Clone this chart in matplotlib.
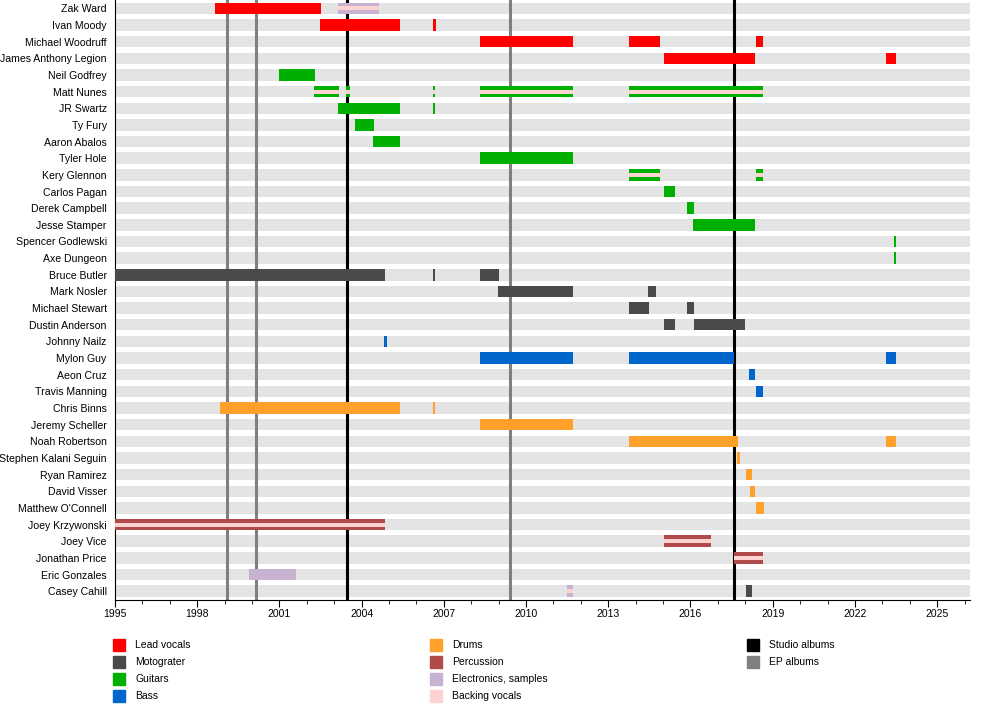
import matplotlib.pyplot as plt
from matplotlib.patches import Rectangle

plt.rcParams['font.family'] = ['Liberation Sans', 'DejaVu Sans']

members = ["Zak Ward", "Ivan Moody", "Michael Woodruff", "James Anthony Legion",
           "Neil Godfrey", "Matt Nunes", "JR Swartz", "Ty Fury", "Aaron Abalos",
           "Tyler Hole", "Kery Glennon", "Carlos Pagan", "Derek Campbell",
           "Jesse Stamper", "Spencer Godlewski", "Axe Dungeon", "Bruce Butler",
           "Mark Nosler", "Michael Stewart", "Dustin Anderson", "Johnny Nailz",
           "Mylon Guy", "Aeon Cruz", "Travis Manning", "Chris Binns",
           "Jeremy Scheller", "Noah Robertson", "Stephen Kalani Seguin",
           "Ryan Ramirez", "David Visser", "Matthew O'Connell", "Joey Krzywonski",
           "Joey Vice", "Jonathan Price", "Eric Gonzales", "Casey Cahill"]

# (member, start, end)
lead_vocals = [("Zak Ward", 1998.65, 2002.5), ("Ivan Moody", 2002.47, 2005.39),
               ("Ivan Moody", 2006.6, 2006.7), ("Michael Woodruff", 2008.33, 2011.71),
               ("Michael Woodruff", 2013.75, 2014.9), ("Michael Woodruff", 2018.39, 2018.65),
               ("James Anthony Legion", 2015.05, 2018.36), ("James Anthony Legion", 2023.14, 2023.5)]
motograter = [("Bruce Butler", 1995.0, 2004.84), ("Bruce Butler", 2006.6, 2006.69),
              ("Bruce Butler", 2008.33, 2009.01), ("Mark Nosler", 2008.98, 2011.71),
              ("Mark Nosler", 2014.45, 2014.75), ("Michael Stewart", 2013.75, 2014.48),
              ("Michael Stewart", 2015.88, 2016.13), ("Dustin Anderson", 2015.05, 2015.44),
              ("Dustin Anderson", 2016.13, 2018.0), ("Casey Cahill", 2018.04, 2018.25)]
guitars = [("Neil Godfrey", 2000.97, 2002.29), ("Matt Nunes", 2002.25, 2003.17),
           ("Matt Nunes", 2003.42, 2003.57), ("Matt Nunes", 2006.6, 2006.69),
           ("Matt Nunes", 2008.33, 2011.71), ("Matt Nunes", 2013.75, 2018.65),
           ("JR Swartz", 2003.13, 2005.39), ("JR Swartz", 2006.6, 2006.69),
           ("Ty Fury", 2003.75, 2004.44), ("Aaron Abalos", 2004.4, 2005.39),
           ("Tyler Hole", 2008.33, 2011.71), ("Kery Glennon", 2013.75, 2014.9),
           ("Kery Glennon", 2018.39, 2018.65), ("Carlos Pagan", 2015.05, 2015.44),
           ("Derek Campbell", 2015.88, 2016.13), ("Jesse Stamper", 2016.1, 2018.36),
           ("Spencer Godlewski", 2023.42, 2023.5), ("Axe Dungeon", 2023.42, 2023.5)]
bass = [("Johnny Nailz", 2004.81, 2004.92), ("Mylon Guy", 2008.33, 2011.71),
        ("Mylon Guy", 2013.75, 2017.6), ("Mylon Guy", 2023.14, 2023.5),
        ("Aeon Cruz", 2018.13, 2018.36), ("Travis Manning", 2018.39, 2018.65)]
drums = [("Chris Binns", 1998.83, 2005.39), ("Chris Binns", 2006.6, 2006.69),
         ("Jeremy Scheller", 2008.33, 2011.71), ("Noah Robertson", 2013.75, 2017.73),
         ("Noah Robertson", 2023.14, 2023.5), ("Stephen Kalani Seguin", 2017.71, 2017.82),
         ("Ryan Ramirez", 2018.04, 2018.25), ("David Visser", 2018.19, 2018.36),
         ("Matthew O'Connell", 2018.39, 2018.67)]
percussion = [("Joey Krzywonski", 1995.0, 2004.84), ("Joey Vice", 2015.05, 2016.74),
              ("Jonathan Price", 2017.6, 2018.65)]
electronics = [("Zak Ward", 2003.13, 2004.62), ("Eric Gonzales", 1999.89, 2001.6),
               ("Casey Cahill", 2011.49, 2011.71)]
# backing vocals drawn as a thin stripe through the middle of the other bar
backing_vocals = [("Zak Ward", 2003.13, 2004.62), ("Matt Nunes", 2002.25, 2003.17),
                  ("Matt Nunes", 2003.42, 2003.57), ("Matt Nunes", 2006.6, 2006.69),
                  ("Matt Nunes", 2008.33, 2011.71), ("Matt Nunes", 2013.75, 2018.65),
                  ("Kery Glennon", 2013.75, 2014.9), ("Kery Glennon", 2018.39, 2018.65),
                  ("Joey Krzywonski", 1995.0, 2004.84), ("Joey Vice", 2015.05, 2016.74),
                  ("Jonathan Price", 2017.6, 2018.65), ("Casey Cahill", 2011.49, 2011.71)]

studio_albums = [2003.46, 2017.6]
ep_albums = [1999.08, 2000.14, 2009.4]

colors = {"Lead vocals": "#ff0000", "Motograter": "#4a4a4a", "Guitars": "#00b000",
          "Bass": "#0066cc", "Drums": "#ffa02a", "Percussion": "#b34a4a",
          "Electronics, samples": "#c8b2d2", "Backing vocals": "#ffd2d2",
          "Studio albums": "#000000", "EP albums": "#808080"}

fig = plt.figure(figsize=(10, 7.15), dpi=100)
ax = fig.add_axes([0.115, 0.1615, 0.855, 0.8385])

pos = {m: i for i, m in enumerate(members)}
h = 0.69

# background stripes
ax.barh(range(len(members)), 2026.2 - 1995, left=1995, height=h, color="#e4e4e4", zorder=1)

for x in studio_albums:
    ax.axvline(x, color=colors["Studio albums"], lw=2.2, zorder=2)
for x in ep_albums:
    ax.axvline(x, color=colors["EP albums"], lw=2.2, zorder=2)

for role, spans in [("Lead vocals", lead_vocals), ("Motograter", motograter),
                    ("Guitars", guitars), ("Bass", bass), ("Drums", drums),
                    ("Percussion", percussion), ("Electronics, samples", electronics)]:
    ax.barh([pos[m] for m, s, e in spans], [e - s for m, s, e in spans],
            left=[s for m, s, e in spans], height=h, color=colors[role], zorder=3)

ax.barh([pos[m] for m, s, e in backing_vocals], [e - s for m, s, e in backing_vocals],
        left=[s for m, s, e in backing_vocals], height=h / 3,
        color=colors["Backing vocals"], zorder=4)

ax.set_xlim(1995, 2026.2)
ax.set_ylim(len(members) - 0.5, -0.5)
ax.set_yticks(range(len(members)))
ax.set_yticklabels(members, fontsize=7.6)
ax.tick_params(axis="y", length=0, pad=6)
ax.set_xticks(range(1995, 2027, 3))
ax.set_xticks(range(1995, 2027), minor=True)
ax.tick_params(axis="x", which="major", length=5, labelsize=7.5, pad=2)
ax.tick_params(axis="x", which="minor", length=3)
ax.spines["top"].set_visible(False)
ax.spines["right"].set_visible(False)

# legend
legend_cols = [["Lead vocals", "Motograter", "Guitars", "Bass"],
               ["Drums", "Percussion", "Electronics, samples", "Backing vocals"],
               ["Studio albums", "EP albums"]]
col_x = [113, 430, 747]
for cx, col in zip(col_x, legend_cols):
    for j, lab in enumerate(col):
        cy = 645 + 17 * j
        fig.add_artist(Rectangle((cx / 1000, 1 - (cy + 6) / 715), 12 / 1000, 12 / 715,
                                 color=colors[lab], transform=fig.transFigure))
        fig.text((cx + 22) / 1000, 1 - cy / 715, lab, fontsize=7.5, va="center")

fig.savefig("out.png", dpi=100)
